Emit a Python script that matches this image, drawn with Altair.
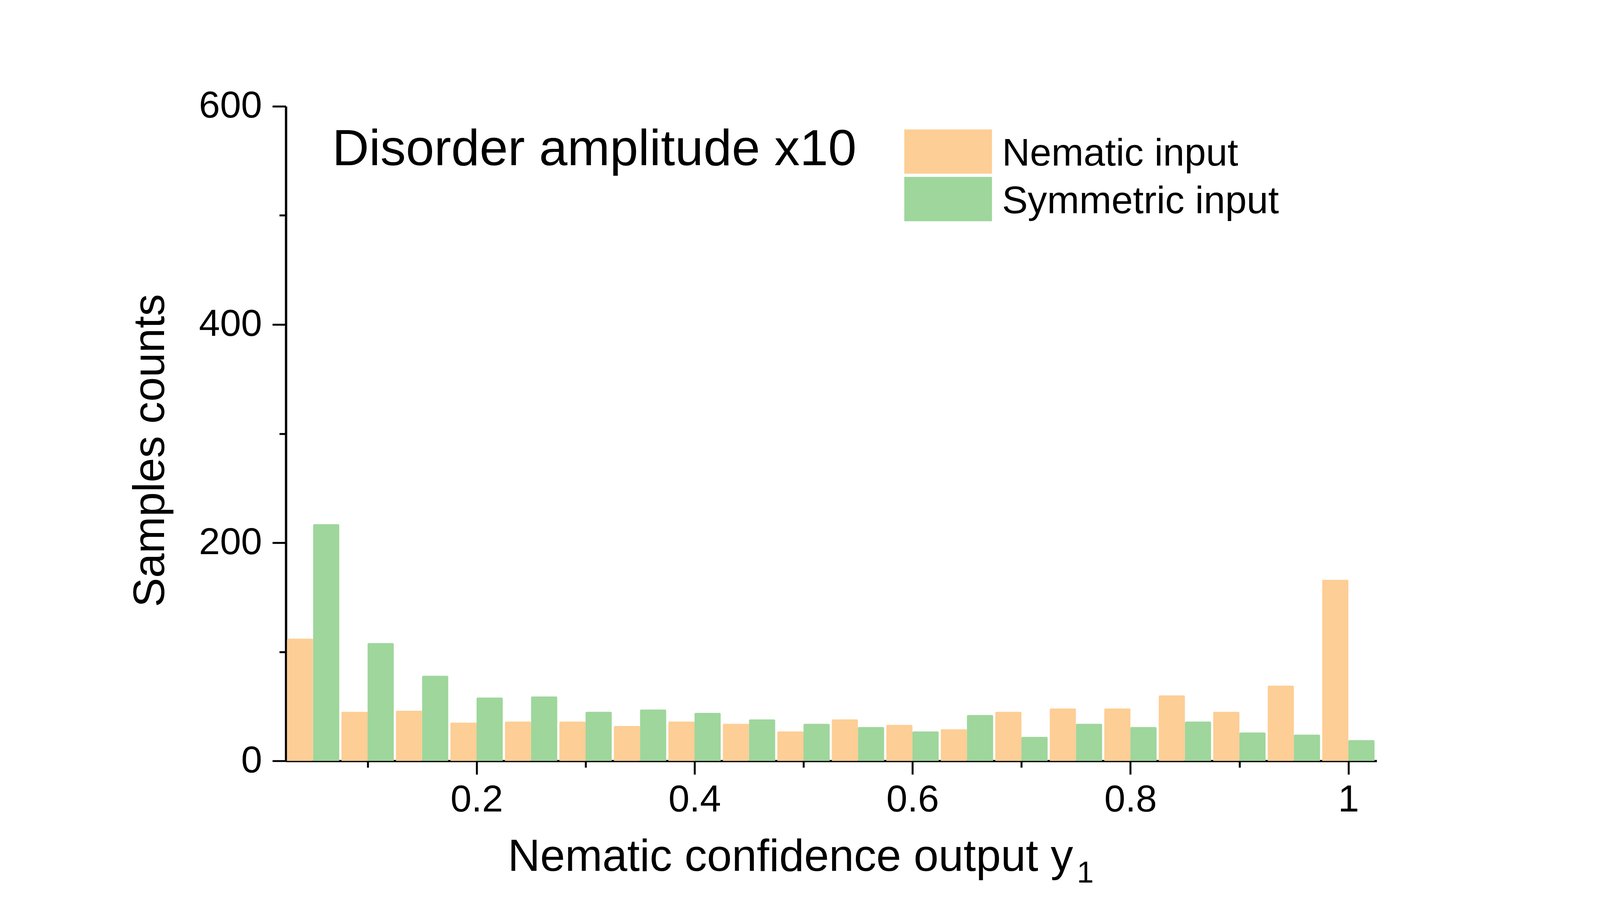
import altair as alt
import pandas as pd

bin_centers = [0.05, 0.10, 0.15, 0.20, 0.25, 0.30, 0.35, 0.40, 0.45, 0.50,
               0.55, 0.60, 0.65, 0.70, 0.75, 0.80, 0.85, 0.90, 0.95, 1.00]
nematic_counts = [112, 45, 46, 35, 36, 36, 32, 36, 34, 27,
                  38, 33, 29, 45, 48, 48, 60, 45, 69, 166]
symmetric_counts = [217, 108, 78, 58, 59, 45, 47, 44, 38, 34,
                    31, 27, 42, 22, 34, 31, 36, 26, 24, 19]
series_names = ["Nematic input", "Symmetric input"]
series_colors = ["#FDCE95", "#9ED69C"]
x_tick_values = [0.1, 0.2, 0.3, 0.4, 0.5, 0.6, 0.7, 0.8, 0.9, 1.0]
y_tick_values = [0, 100, 200, 300, 400, 500, 600]
panel_label = ["Disorder amplitude x10"]
x_title_main = "Nematic confidence output y"
x_title_sub = ["1"]

FONT = "Liberation Sans"

rows = []
for c, n, s in zip(bin_centers, nematic_counts, symmetric_counts):
    rows.append({"center": c, "series": series_names[0], "count": n})
    rows.append({"center": c, "series": series_names[1], "count": s})
df = pd.DataFrame(rows)

x_axis = alt.Axis(
    values=x_tick_values,
    labelExpr="round(datum.value*10) % 2 == 0 ? (datum.value == 1 ? '1' : format(datum.value, '.1f')) : ''",
    tickSize={"condition": {"test": "round(datum.value*10) % 2 == 0", "value": 35}, "value": 17},
    title=x_title_main,
    titleX=574, titleY=284, titleAlign="left", titleBaseline="alphabetic",
    titleFontSize=116,
    labelPadding=19, grid=False, labelFlush=False, labelOverlap=False,
)
y_axis = alt.Axis(
    values=y_tick_values,
    labelExpr="datum.value % 200 == 0 ? datum.label : ''",
    tickSize={"condition": {"test": "datum.value % 200 == 0", "value": 35}, "value": 17},
    title="Samples counts",
    titleX=-316, titleY=891, titleAlign="center", titleBaseline="alphabetic", titleAngle=270,
    labelPadding=27, grid=False, labelOverlap=False,
)

bars = alt.Chart(df).transform_calculate(
    x0="datum.series == 'Nematic input' ? datum.center - 0.025 + 0.001 : datum.center",
    x1="datum.series == 'Nematic input' ? datum.center : datum.center + 0.025 - 0.001",
    base="0",
).mark_bar(cornerRadiusTopLeft=3, cornerRadiusTopRight=3).encode(
    x=alt.X("x0:Q", scale=alt.Scale(domain=[0.025, 1.026], nice=False, zero=False), axis=x_axis),
    x2="x1:Q",
    y=alt.Y("count:Q", scale=alt.Scale(domain=[0, 600], nice=False), axis=y_axis),
    y2="base:Q",
    color=alt.Color(
        "series:N",
        scale=alt.Scale(domain=series_names, range=series_colors),
        legend=alt.Legend(
            orient="none", legendX=1601, legendY=61, title=None, padding=0,
            symbolType="M-1,-1.01H1V0H-1Z", symbolSize=51529,
            symbolStrokeWidth=0, symbolOpacity=1,
            labelFont=FONT, labelFontSize=100, labelOffset=26, labelLimit=2000,
            labelBaseline="bottom", rowPadding=7,
        ),
    ),
)

label = alt.Chart(pd.DataFrame({"label": panel_label})).mark_text(
    align="left", baseline="alphabetic", fontSize=132, font=FONT, color="black"
).encode(text="label:N", x=alt.value(120), y=alt.value(152))

sub = alt.Chart(pd.DataFrame({"label": x_title_sub})).mark_text(
    align="left", baseline="alphabetic", fontSize=78, font=FONT, color="black"
).encode(text="label:N", x=alt.value(2048), y=alt.value(2010))

chart = alt.layer(bars, label, sub).properties(
    width=2824, height=1695,
    padding={"left": 732, "top": 254, "right": 570, "bottom": 404},
    autosize=alt.AutoSizeParams(type="none"),
).configure_view(stroke=None).configure_axis(
    domainColor="black", domainWidth=6, tickColor="black", tickWidth=5,
    labelFont=FONT, labelFontSize=98, labelColor="black",
    titleFont=FONT, titleFontSize=114, titleColor="black", titleFontWeight="normal",
)

chart.save("out.html", embed_options={"renderer": "svg", "actions": False})
